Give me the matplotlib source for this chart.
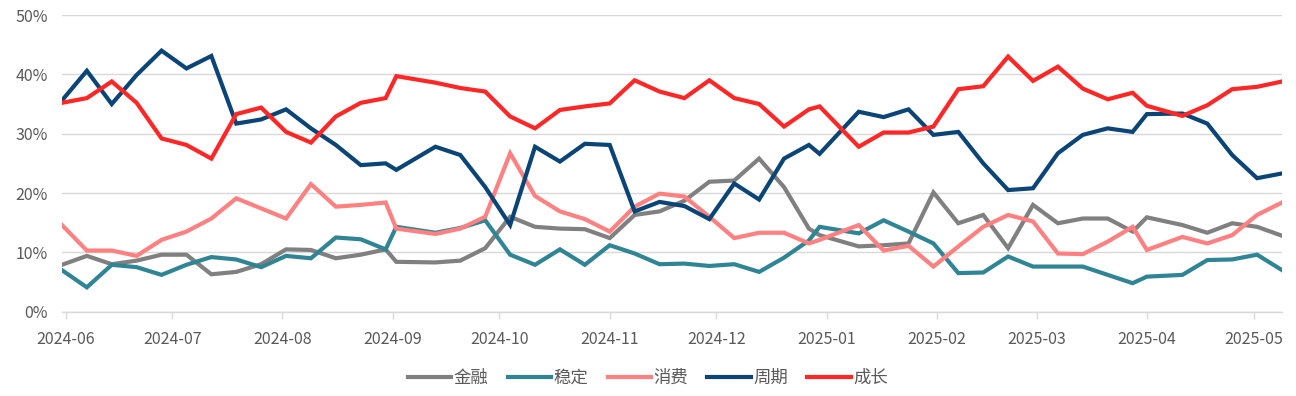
import pandas as pd
import matplotlib.pyplot as plt
import matplotlib.dates as mdates
from matplotlib.ticker import MultipleLocator, FuncFormatter

plt.rcParams['font.family'] = ['Noto Sans CJK SC', 'DejaVu Sans']

# weekly observation dates (a few weeks fall on a different weekday)
dates = pd.date_range("2024-05-31", periods=50, freq="7D").to_list()
dates[14] = pd.Timestamp("2024-09-02")
dates[31] = pd.Timestamp("2024-12-30")
dates[44] = pd.Timestamp("2025-04-01")

# shares in %
jinrong = [7.9, 9.4, 8.0, 8.6, 9.6, 9.6, 6.3, 6.7, 8.0, 10.5,
           10.4, 9.0, 9.6, 10.5, 8.4, 8.3, 8.6, 10.7, 16.0, 14.3,
           14.0, 13.9, 12.4, 16.3, 16.9, 18.7, 21.9, 22.1, 25.8, 21.0,
           14.0, 12.9, 11.0, 11.2, 11.5, 20.1, 14.9, 16.3, 10.7, 18.0,
           14.9, 15.7, 15.7, 13.5, 15.9, 14.6, 13.3, 14.9, 14.3, 12.8]
wending = [7.0, 4.1, 7.9, 7.5, 6.2, 7.9, 9.2, 8.8, 7.5, 9.4,
           9.0, 12.5, 12.2, 10.5, 14.3, 13.3, 14.1, 15.4, 9.6, 7.9,
           10.5, 7.9, 11.2, 9.8, 8.0, 8.1, 7.7, 8.0, 6.7, 9.1,
           12.0, 14.3, 13.2, 15.4, 13.5, 11.5, 6.5, 6.6, 9.3, 7.6,
           7.6, 7.6, 6.2, 4.8, 5.9, 6.2, 8.7, 8.8, 9.6, 7.0]
xiaofei = [14.6, 10.3, 10.3, 9.4, 12.1, 13.5, 15.7, 19.1, 17.4, 15.7,
           21.5, 17.7, 18.0, 18.4, 14.0, 13.1, 14.0, 16.0, 26.7, 19.5,
           16.9, 15.6, 13.5, 17.7, 19.9, 19.4, 16.0, 12.4, 13.3, 13.3,
           11.5, 12.1, 14.6, 10.3, 11.1, 7.6, 11.0, 14.3, 16.3, 15.2,
           9.8, 9.7, 11.8, 14.3, 10.4, 12.6, 11.5, 12.9, 16.3, 18.4]
zhouqi = [35.6, 40.6, 35.0, 39.9, 44.0, 41.0, 43.1, 31.7, 32.4, 34.1,
          30.9, 28.1, 24.7, 25.0, 23.9, 27.8, 26.4, 21.0, 14.6, 27.8,
          25.3, 28.3, 28.1, 16.9, 18.5, 17.8, 15.6, 21.6, 18.9, 25.8,
          28.1, 26.6, 33.7, 32.8, 34.1, 29.8, 30.3, 25.0, 20.5, 20.8,
          26.7, 29.8, 30.9, 30.3, 33.3, 33.4, 31.7, 26.4, 22.5, 23.3]
chengzhang = [35.2, 36.0, 38.8, 35.2, 29.2, 28.1, 25.8, 33.3, 34.4, 30.3,
              28.5, 32.9, 35.2, 36.0, 39.7, 38.6, 37.7, 37.1, 32.9, 30.9,
              34.0, 34.6, 35.1, 39.0, 37.1, 36.0, 39.0, 36.0, 35.0, 31.2,
              34.1, 34.6, 27.8, 30.2, 30.2, 31.2, 37.5, 38.0, 43.0, 38.9,
              41.3, 37.6, 35.8, 36.9, 34.7, 33.0, 34.8, 37.5, 37.9, 38.8]

labels = ["金融", "稳定", "消费", "周期", "成长"]
colors = ["#808080", "#2F8596", "#FF8080", "#0B4577", "#FF2626"]
series = [jinrong, wending, xiaofei, zhouqi, chengzhang]

fig = plt.figure(figsize=(12.96, 3.96), dpi=100)
ax = fig.add_axes([0.0478, 0.213, 0.9414, 0.749])

for vals, lab, c in zip(series, labels, colors):
    ax.plot(dates, vals, color=c, linewidth=3, label=lab, solid_joinstyle="miter")

ax.set_ylim(0, 50)
ax.set_xlim(dates[0], dates[-1])
ax.yaxis.set_major_locator(MultipleLocator(10))
ax.yaxis.set_major_formatter(FuncFormatter(lambda v, p: f"{v:.0f}%"))
ax.xaxis.set_major_locator(mdates.MonthLocator())
ax.xaxis.set_major_formatter(mdates.DateFormatter("%Y-%m"))

ax.grid(axis="y", color="#D9D9D9", linewidth=1.0)
ax.set_axisbelow(True)
for s in ["top", "right", "left"]:
    ax.spines[s].set_visible(False)
ax.spines["bottom"].set_color("#D9D9D9")
ax.spines["bottom"].set_linewidth(1.0)

ax.tick_params(axis="y", length=0, pad=10, labelsize=11.5, labelcolor="#595959")
ax.tick_params(axis="x", length=5, width=1, color="#D9D9D9", pad=9,
               labelsize=11.5, labelcolor="#595959")

fig.legend(loc="center", bbox_to_anchor=(0.5, 0.046), ncol=5, frameon=False,
           fontsize=12.5, handlelength=2.5, handletextpad=0.15, columnspacing=1.1,
           labelcolor="#595959")

fig.savefig("out.png", dpi=100)
